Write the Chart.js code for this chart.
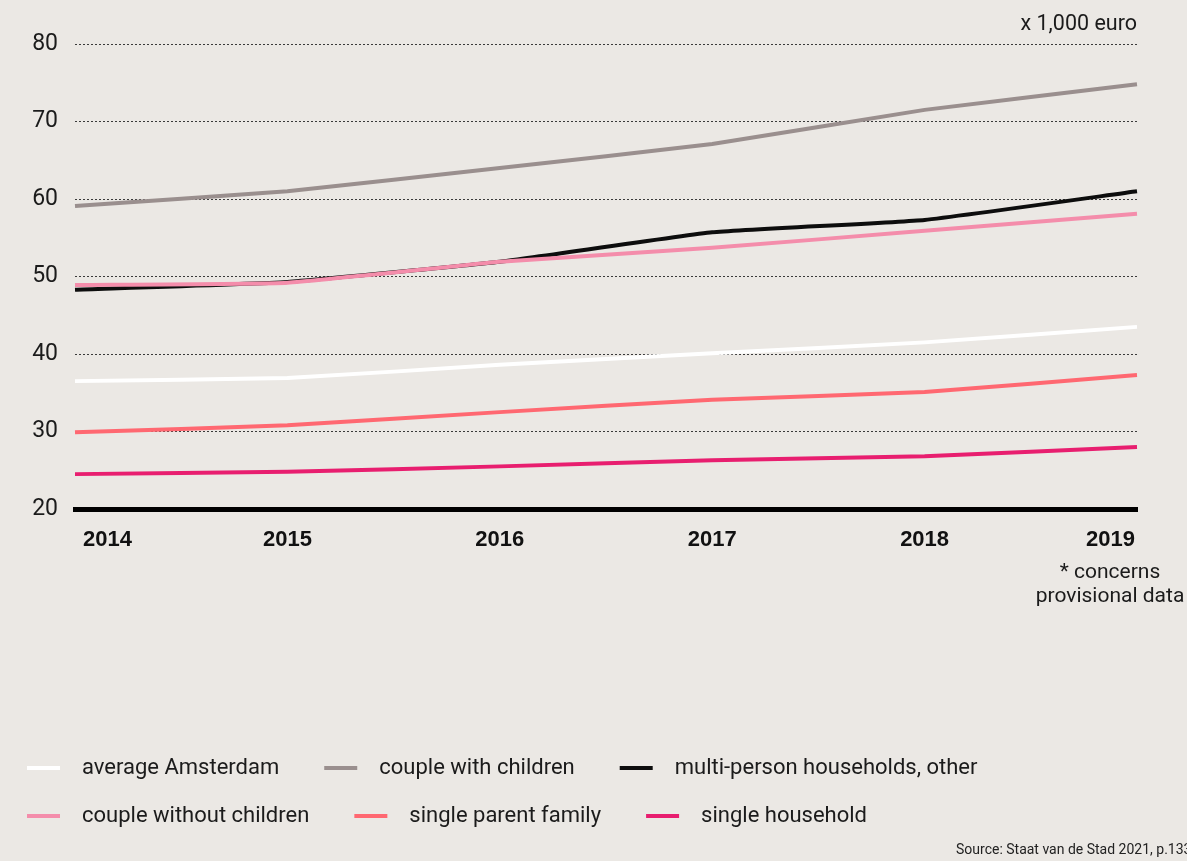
<!DOCTYPE html>
<html>
<head>
<meta charset="utf-8">
<script src="https://cdn.jsdelivr.net/npm/chart.js@4.4.1/dist/chart.umd.min.js"></script>
<style>
  html, body { margin: 0; padding: 0; background: #ebe8e4; }
  #wrap { width: 1187px; height: 861px; }
</style>
</head>
<body>
<div id="wrap"><canvas id="income" width="1187" height="861"></canvas></div>
<script>
// Average disposable household income by household type, x 1,000 euro.
const years = ['2014', '2015', '2016', '2017', '2018', '2019'];

const averageAmsterdam = [36.5, 36.9, 38.6, 40.1, 41.5, 43.5];
const coupleWithChildren = [59.1, 61.0, 64.0, 67.1, 71.5, 74.8];
const multiPersonOther = [48.3, 49.3, 51.9, 55.7, 57.3, 61.0];
const coupleWithoutChildren = [48.9, 49.2, 51.9, 53.7, 55.9, 58.1];
const singleParentFamily = [29.9, 30.8, 32.5, 34.1, 35.1, 37.3];
const singleHousehold = [24.5, 24.8, 25.5, 26.3, 26.8, 28.0];

const yTicks = [20, 30, 40, 50, 60, 70, 80];
const unitLabel = 'x 1,000 euro';
const footnote = ['* concerns', 'provisional data'];
const sourceNote = 'Source: Staat van de Stad 2021, p.133';

const FONT = 'Roboto, "Noto Sans", sans-serif';
const INK = '#1b1b1b';

function lineSet(label, data, color, order) {
  return {
    label,
    data,
    borderColor: color,
    backgroundColor: color,
    borderWidth: 4,
    pointRadius: 0,
    pointHoverRadius: 0,
    tension: 0.12,
    borderCapStyle: 'butt',
    order
  };
}

const datasets = [
  lineSet('average Amsterdam', averageAmsterdam, '#ffffff', 0),
  lineSet('couple with children', coupleWithChildren, '#9a8f8e', 1),
  lineSet('multi-person households, other', multiPersonOther, '#0d0d0d', 3),
  lineSet('couple without children', coupleWithoutChildren, '#f48dab', 2),
  lineSet('single parent family', singleParentFamily, '#ff6871', 4),
  lineSet('single household', singleHousehold, '#e81e6f', 5)
];

// legend is two rows of three, flowed left to right
const legendRows = [[0, 1, 2], [3, 4, 5]];

const extras = {
  id: 'extras',
  afterDraw(chart) {
    const { ctx, chartArea } = chart;
    const xs = chart.scales.x;
    ctx.save();
    ctx.textBaseline = 'middle';

    // year labels: first one tucked inward, last one right-aligned
    ctx.fillStyle = '#111';
    ctx.font = 'bold 22px "Liberation Sans", Arial, sans-serif';
    years.forEach((yr, i) => {
      let px = xs.getPixelForValue(i);
      ctx.textAlign = 'center';
      if (i === 0) { ctx.textAlign = 'left'; px += 8; }
      if (i === years.length - 1) { ctx.textAlign = 'right'; px -= 2; }
      ctx.fillText(yr, px, chartArea.bottom + 31);
    });

    ctx.fillStyle = INK;
    ctx.font = '21.5px ' + FONT;
    ctx.textAlign = 'right';
    ctx.fillText(unitLabel, chartArea.right, 25);

    ctx.font = '21px ' + FONT;
    ctx.textAlign = 'center';
    const fx = xs.getPixelForValue(years.length - 1) - 27;
    ctx.fillText(footnote[0], fx, chartArea.bottom + 64);
    ctx.fillText(footnote[1], fx, chartArea.bottom + 88);

    // legend
    ctx.font = '22px ' + FONT;
    ctx.textAlign = 'left';
    legendRows.forEach((row, r) => {
      const y = 768 + r * 48;
      let x = 27;
      row.forEach((di) => {
        const ds = datasets[di];
        ctx.strokeStyle = ds.borderColor;
        ctx.lineWidth = 4;
        ctx.beginPath();
        ctx.moveTo(x, y);
        ctx.lineTo(x + 33, y);
        ctx.stroke();
        ctx.fillStyle = INK;
        ctx.fillText(ds.label, x + 55, y);
        x += 55 + ctx.measureText(ds.label).width + 45;
      });
    });

    ctx.font = '14px ' + FONT;
    ctx.fillStyle = '#222';
    ctx.fillText(sourceNote, 956, 850);
    ctx.restore();
  }
};

new Chart(document.getElementById('income'), {
  type: 'line',
  data: { labels: years, datasets },
  options: {
    responsive: false,
    animation: false,
    events: [],
    layout: { padding: { left: 0, right: 50, top: 44, bottom: 352 } },
    plugins: { legend: { display: false }, tooltip: { enabled: false } },
    scales: {
      x: {
        type: 'category',
        offset: false,
        afterFit: (s) => { s.height = 0; },
        ticks: { display: false },
        grid: { display: true, drawOnChartArea: false, drawTicks: false },
        border: { display: true, color: '#000', width: 5 }
      },
      y: {
        min: 20,
        max: 80,
        afterFit: (s) => { s.width = 75; },
        afterBuildTicks: (s) => { s.ticks = yTicks.map((v) => ({ value: v })); },
        ticks: { color: INK, font: { family: FONT, size: 23 }, padding: 17 },
        grid: { color: '#3a3a3a', lineWidth: 1, drawTicks: false },
        border: { display: false, dash: [2, 2] }
      }
    }
  },
  plugins: [extras]
});
</script>
</body>
</html>
